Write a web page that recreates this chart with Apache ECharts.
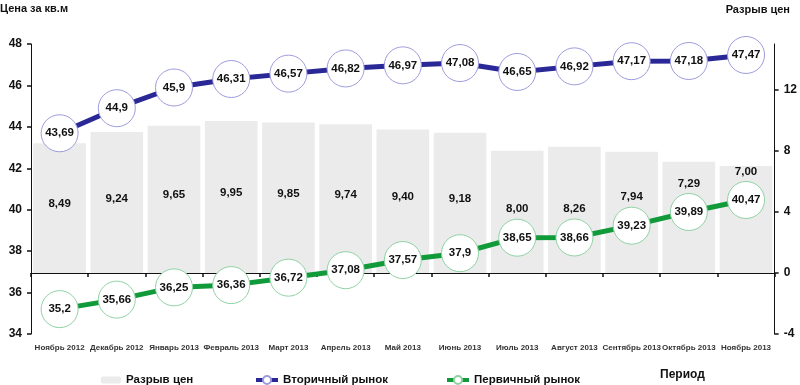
<!DOCTYPE html>
<html><head><meta charset="utf-8">
<script src="https://cdn.jsdelivr.net/npm/echarts@6/dist/echarts.min.js"></script>
<style>html,body{margin:0;padding:0;background:#fff}#c{width:800px;height:385px}</style>
</head><body><div id="c"></div>
<script>
var categories = ['Ноябрь 2012','Декабрь 2012','Январь 2013','Февраль 2013','Март 2013','Апрель 2013','Май 2013','Июнь 2013','Июль 2013','Август 2013','Сентябрь 2013','Октябрь 2013','Ноябрь 2013'];
var secondary = [43.69,44.9,45.9,46.31,46.57,46.82,46.97,47.08,46.65,46.92,47.17,47.18,47.47];
var primary = [35.2,35.66,36.25,36.36,36.72,37.08,37.57,37.9,38.65,38.66,39.23,39.89,40.47];
var gap = [8.49,9.24,9.65,9.95,9.85,9.74,9.40,9.18,8.00,8.26,7.94,7.29,7.00];
var leftTicks = [34,36,38,40,42,44,46,48];
var rightTicks = [-4,0,4,8,12];

var F = "'Liberation Sans',Arial,sans-serif";
function comma(v){ return String(v).replace('.', ','); }
function comma2(v){ return v.toFixed(2).replace('.', ','); }
var aboveFrom = 8;
var valFont = {fontFamily:F,fontSize:11.5,fontWeight:'bold',color:'#111'};
var legFont = {fontFamily:F,fontSize:11.5,fontWeight:'bold',color:'#111'};

var chart = echarts.init(document.getElementById('c'), null, {renderer:'canvas'});
chart.setOption({
  animation:false,
  grid:{left:31,right:23,top:44,bottom:51,containLabel:false},
  graphic:[
    {type:'text',left:0,top:3,style:{text:'Цена за кв.м',font:'bold 11px '+F,fill:'#111'}},
    {type:'text',right:10,top:4,style:{text:'Разрыв цен',font:'bold 11px '+F,fill:'#111'}},
    {type:'text',left:660,top:369,style:{text:'Период',font:'bold 12px '+F,fill:'#111'}}
  ],
  legend:[
    {data:['Разрыв цен'],left:96,top:369,itemWidth:20,itemHeight:7,itemGap:0,textStyle:legFont},
    {data:['Вторичный рынок'],left:249,top:369,itemWidth:22,itemHeight:10,lineStyle:{width:4},textStyle:legFont},
    {data:['Первичный рынок'],left:440,top:369,itemWidth:22,itemHeight:10,lineStyle:{width:4},textStyle:legFont}
  ],
  xAxis:{type:'category',data:categories,boundaryGap:true,
    axisLine:{lineStyle:{color:'#111',width:1}},
    axisTick:{show:true,length:4,lineStyle:{color:'#111',width:1.5}},
    axisLabel:{fontFamily:F,fontSize:8,fontWeight:'bold',color:'#333',margin:10,interval:0}},
  yAxis:[
    {type:'value',min:34,max:48,interval:2,position:'left',splitLine:{show:false},
      axisLine:{show:true,lineStyle:{color:'#111'}},
      axisTick:{show:true,length:4,lineStyle:{color:'#111',width:1.5}},
      axisLabel:{fontFamily:F,fontSize:12,fontWeight:'bold',color:'#111',margin:9,customValues:leftTicks}},
    {type:'value',min:-4,max:15,interval:4,position:'right',splitLine:{show:false},
      axisLine:{show:true,lineStyle:{color:'#111'}},
      axisTick:{show:true,length:4,lineStyle:{color:'#111',width:1.5},customValues:rightTicks},
      axisLabel:{fontFamily:F,fontSize:12,fontWeight:'bold',color:'#111',margin:9,customValues:rightTicks}}
  ],
  series:[
    {name:'Разрыв цен',type:'bar',yAxisIndex:1,barCategoryGap:'8%',
      itemStyle:{color:'#ebebeb'},
      data:gap.map(function(v,i){ return i>=aboveFrom ? {value:v,label:{show:false}} : v; }),
      label:Object.assign({show:true,position:'inside',offset:[0,-4],formatter:function(p){return comma2(p.value);}},valFont)},
    {name:'Вторичный рынок',type:'line',yAxisIndex:0,data:secondary,
      symbol:'circle',symbolSize:37,lineStyle:{color:'#2a2896',width:5},
      itemStyle:{color:'#fff',borderColor:'#9d9bdc',borderWidth:1},
      label:Object.assign({show:true,position:'inside',formatter:function(p){return comma(p.value);}},valFont)},
    {name:'Первичный рынок',type:'line',yAxisIndex:0,data:primary,
      symbol:'circle',symbolSize:37,lineStyle:{color:'#119a3a',width:5},
      itemStyle:{color:'#fff',borderColor:'#8fd2a4',borderWidth:1},
      label:Object.assign({show:true,position:'inside',formatter:function(p){return comma(p.value);}},valFont)},
    {name:'gapTop',type:'scatter',yAxisIndex:0,silent:true,symbol:'circle',symbolSize:37,z:5,
      itemStyle:{color:'rgba(255,255,255,0)',opacity:1},
      data:primary.map(function(v,i){ return i>=aboveFrom ? v : '-'; }),
      label:Object.assign({show:true,position:'top',distance:4,opacity:1,formatter:function(p){return comma2(gap[p.dataIndex]);}},valFont)}
  ]
});
</script></body></html>
